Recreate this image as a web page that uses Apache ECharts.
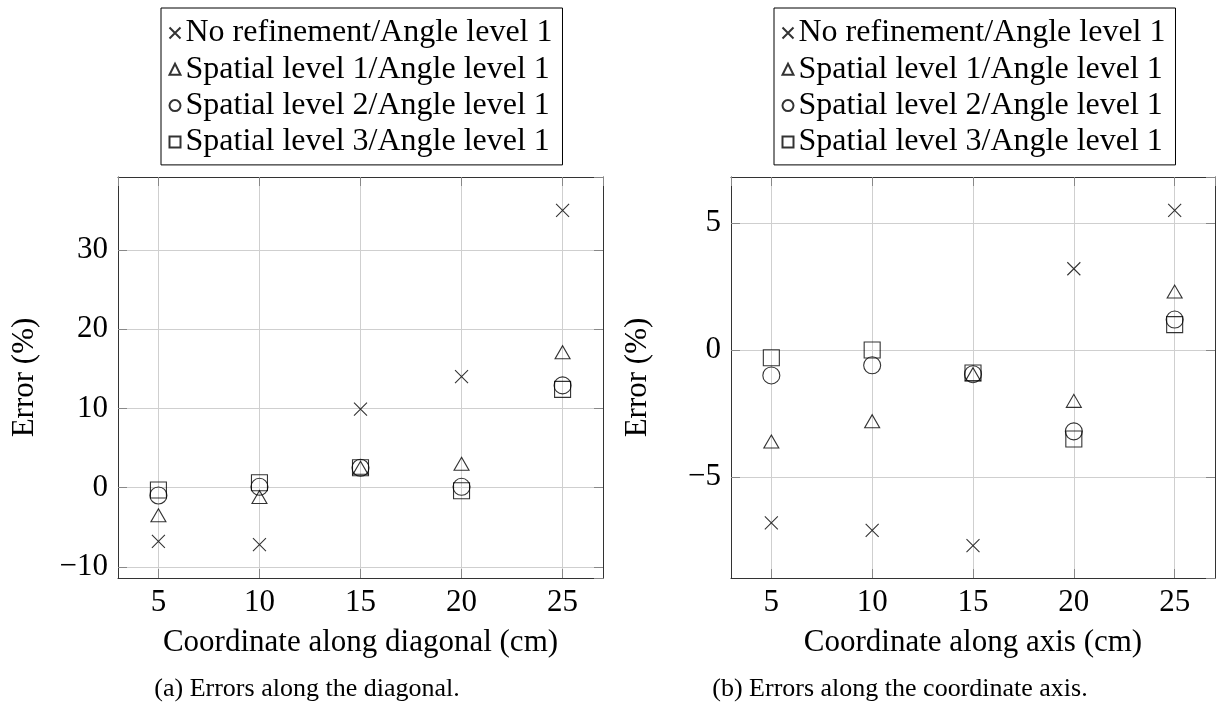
<!DOCTYPE html>
<html>
<head>
<meta charset="utf-8">
<script src="https://cdn.jsdelivr.net/npm/echarts@6/dist/echarts.min.js"></script>
<style>
html, body { margin: 0; padding: 0; background: #fff; }
#chart { width: 1217px; height: 707px; }
</style>
</head>
<body>
<div id="chart"></div>
<script>
// positions along the line (cm)
var positions = [5, 10, 15, 20, 25];
var seriesNames = [
    'No refinement/Angle level 1',
    'Spatial level 1/Angle level 1',
    'Spatial level 2/Angle level 1',
    'Spatial level 3/Angle level 1'
];

// (a) errors along the diagonal (%)
var diagNoRef = [-6.8, -7.2, 9.9, 14.0, 35.0];
var diagSpatial1 = [-3.5, -1.2, 2.5, 3.0, 17.1];
var diagSpatial2 = [-1.0, 0.1, 2.5, 0.1, 12.9];
var diagSpatial3 = [-0.3, 0.6, 2.5, -0.4, 12.4];

// (b) errors along the coordinate axis (%)
var axisNoRef = [-6.8, -7.1, -7.7, 3.2, 5.5];
var axisSpatial1 = [-3.6, -2.8, -0.95, -2.0, 2.3];
var axisSpatial2 = [-1.0, -0.6, -0.95, -3.2, 1.2];
var axisSpatial3 = [-0.3, 0.0, -0.9, -3.5, 1.0];

var captions = ['(a) Errors along the diagonal.', '(b) Errors along the coordinate axis.'];
var xTitles = ['Coordinate along diagonal (cm)', 'Coordinate along axis (cm)'];

var FONT = 'Liberation Serif';
var chart = echarts.init(document.getElementById('chart'));

var marks = ['path://M0,0L10,10M0,10L10,0', 'triangle', 'circle', 'rect'];
var markSizes = [13, [15, 13], 17, 16];

function pairs(ys) {
    return positions.map(function (x, i) { return [x, ys[i]]; });
}

function minus(v) {
    return v < 0 ? '\u2212' + Math.abs(v) : String(v);
}

function scatter(k, ys, axisIndex) {
    return {
        name: seriesNames[k],
        type: 'scatter',
        xAxisIndex: axisIndex,
        yAxisIndex: axisIndex,
        symbol: marks[k],
        symbolSize: markSizes[k],
        itemStyle: { color: 'none', borderColor: '#000', borderWidth: 1.1 },
        emphasis: { disabled: true },
        data: pairs(ys)
    };
}

// main axis (with labels) and its mirrored partner (ticks only)
function xAxes(grid, title) {
    var base = {
        gridIndex: grid, type: 'value', min: 3, max: 27, splitNumber: 5,
        axisLine: { show: true, onZero: false, lineStyle: { color: '#333', width: 1 } },
        axisTick: { show: true, inside: true, length: 9, lineStyle: { color: '#888' } }
    };
    return [
        Object.assign({}, base, {
            position: 'bottom',
            name: title, nameLocation: 'middle', nameGap: 49,
            nameTextStyle: { fontFamily: FONT, fontSize: 31, color: '#000' },
            axisLabel: { fontFamily: FONT, fontSize: 31, color: '#000', margin: 9,
                showMinLabel: false, showMaxLabel: false },
            splitLine: { show: true, showMinLine: false, showMaxLine: false,
                lineStyle: { color: '#cfcfcf', width: 1 } }
        }),
        Object.assign({}, base, {
            position: 'top', axisLabel: { show: false }, splitLine: { show: false }
        })
    ];
}

function yAxes(grid, min, max, split) {
    var base = {
        gridIndex: grid, type: 'value', min: min, max: max, splitNumber: split,
        axisLine: { show: true, onZero: false, lineStyle: { color: '#333', width: 1 } },
        axisTick: { show: true, inside: true, length: 9, lineStyle: { color: '#888' } }
    };
    return [
        Object.assign({}, base, {
            position: 'left',
            name: 'Error (%)', nameLocation: 'middle', nameGap: 78, nameRotate: 90,
            nameTextStyle: { fontFamily: FONT, fontSize: 31, color: '#000' },
            axisLabel: { fontFamily: FONT, fontSize: 31, color: '#000', margin: 10,
                showMinLabel: false, showMaxLabel: false, formatter: minus },
            splitLine: { show: true, showMinLine: false, showMaxLine: false,
                lineStyle: { color: '#cfcfcf', width: 1 } }
        }),
        Object.assign({}, base, {
            position: 'right', axisLabel: { show: false }, splitLine: { show: false }
        })
    ];
}

function legendAt(left) {
    return {
        data: seriesNames.map(function (n) { return { name: n }; }),
        orient: 'vertical',
        left: left, top: 8,
        padding: [9, 10, 7, 6],
        borderColor: '#000', borderWidth: 1,
        itemWidth: 11, itemHeight: 11, itemGap: 4.3,
        selectedMode: false,
        textStyle: { fontFamily: FONT, fontSize: 32, color: '#000', lineHeight: 32 }
    };
}

var option = {
    backgroundColor: '#fff',
    animation: false,
    grid: [
        { left: 118, top: 177, width: 485, height: 401 },
        { left: 731, top: 177, width: 484, height: 401 }
    ],
    legend: [legendAt(161), legendAt(774)],
    xAxis: xAxes(0, xTitles[0]).concat(xAxes(1, xTitles[1])),
    yAxis: yAxes(0, -11.42, 39.22, 5).concat(yAxes(1, -8.97, 6.81, 3)),
    series: [
        scatter(0, diagNoRef, 0), scatter(1, diagSpatial1, 0),
        scatter(2, diagSpatial2, 0), scatter(3, diagSpatial3, 0),
        scatter(0, axisNoRef, 2), scatter(1, axisSpatial1, 2),
        scatter(2, axisSpatial2, 2), scatter(3, axisSpatial3, 2)
    ],
    graphic: [
        { type: 'text', x: 307, y: 689, style: { text: captions[0], fontFamily: FONT, fontSize: 26,
            fill: '#000', textAlign: 'center', textVerticalAlign: 'middle' } },
        { type: 'text', x: 900, y: 689, style: { text: captions[1], fontFamily: FONT, fontSize: 26,
            fill: '#000', textAlign: 'center', textVerticalAlign: 'middle' } }
    ]
};

chart.setOption(option);
</script>
</body>
</html>
